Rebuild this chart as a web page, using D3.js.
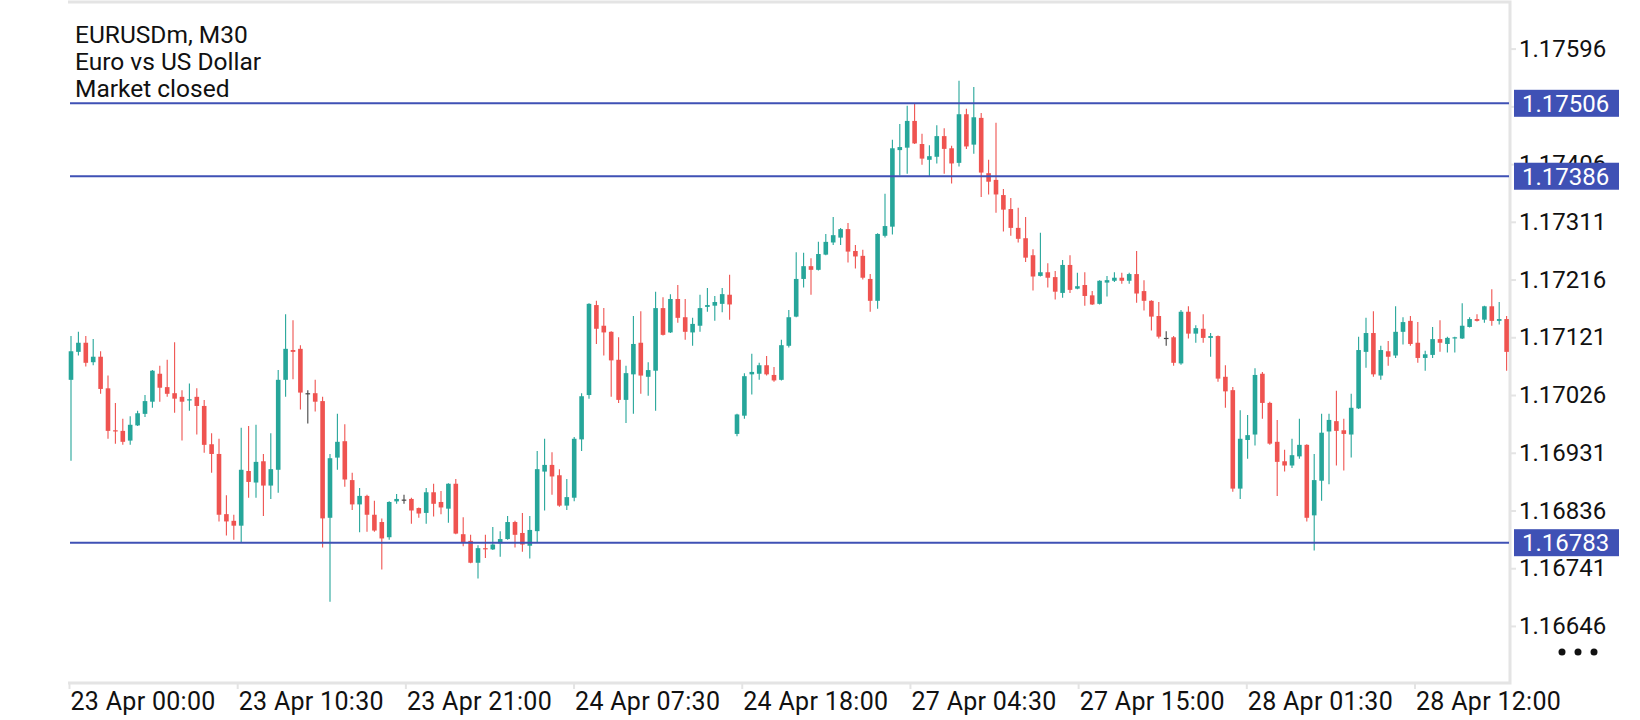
<!DOCTYPE html>
<html>
<head>
<meta charset="utf-8">
<script src="https://cdn.jsdelivr.net/npm/d3@7/dist/d3.min.js"></script>
<style>
  html, body { margin: 0; padding: 0; background: #fff; }
  svg { display: block; font-family: Roboto, "Noto Sans", sans-serif; }
</style>
</head>
<body>
<div id="chart"></div>
<script>
//Chart Header;
const titleLines = ["EURUSDm, M30", "Euro vs US Dollar", "Market closed"];

//Time Axis Labels;
const timeLabels = ["23 Apr 00:00", "23 Apr 10:30", "23 Apr 21:00", "24 Apr 07:30", "24 Apr 18:00",
                    "27 Apr 04:30", "27 Apr 15:00", "28 Apr 01:30", "28 Apr 12:00"];

//Price Axis Ticks;
const priceTicks = [1.17596, 1.17501, 1.17406, 1.17311, 1.17216, 1.17121, 1.17026, 1.16931, 1.16836, 1.16741, 1.16646];

//Horizontal Levels;
const levels = [1.17506, 1.17386, 1.16783];

//M30 Candles;
const open = [
  1.17051,1.17097,1.17112,1.17080,1.17089,1.17037,1.16968,1.16967,1.16951,1.16976,
  1.16995,1.17015,1.17061,1.17039,1.17029,1.17023,1.17017,1.17023,1.17008,1.16945,
  1.16929,1.16830,1.16819,1.16811,1.16901,1.16882,1.16917,1.16877,1.16903,1.17051,
  1.17100,1.17102,1.17029,1.17029,1.17016,1.16824,1.16923,1.16950,1.16886,1.16846,
  1.16860,1.16829,1.16817,1.16792,1.16851,1.16854,1.16855,1.16840,1.16832,1.16866,
  1.16850,1.16839,1.16880,1.16797,1.16786,1.16750,1.16774,1.16772,1.16782,1.16789,
  1.16817,1.16799,1.16778,1.16802,1.16900,1.16911,1.16894,1.16844,1.16857,1.16953,
  1.17026,1.17174,1.17140,1.17130,1.17084,1.17018,1.17060,1.17112,1.17056,1.17066,
  1.17169,1.17129,1.17184,1.17154,1.17129,1.17140,1.17171,1.17173,1.17176,1.17191,
  1.16962,1.16992,1.17060,1.17061,1.17075,1.17059,1.17051,1.17107,1.17155,1.17217,
  1.17238,1.17232,1.17257,1.17277,1.17285,1.17299,1.17263,1.17255,1.17217,1.17181,
  1.17288,1.17303,1.17429,1.17433,1.17477,1.17439,1.17413,1.17418,1.17452,1.17432,
  1.17408,1.17488,1.17438,1.17482,1.17391,1.17380,1.17355,1.17332,1.17301,1.17284,
  1.17256,1.17222,1.17228,1.17220,1.17194,1.17240,1.17201,1.17207,1.17190,1.17176,
  1.17211,1.17214,1.17219,1.17214,1.17225,1.17197,1.17181,1.17156,1.17120,1.17121,
  1.17078,1.17163,1.17127,1.17135,1.17120,1.17123,1.17056,1.17034,1.16872,1.16952,
  1.16961,1.17061,1.17013,1.16949,1.16917,1.16910,1.16925,1.16944,1.16828,1.16885,
  1.16966,1.16983,1.16968,1.16961,1.17004,1.17097,1.17128,1.17058,1.17098,1.17091,
  1.17130,1.17148,1.17112,1.17087,1.17092,1.17118,1.17110,1.17119,1.17119,1.17138,
  1.17151,1.17150,1.17172,1.17148,1.17151
];
const high = [
  1.17123,1.17130,1.17123,1.17118,1.17098,1.17058,1.17013,1.16987,1.16991,1.17000,
  1.17026,1.17067,1.17074,1.17084,1.17113,1.17034,1.17045,1.17037,1.17018,1.16963,
  1.16954,1.16861,1.16829,1.16972,1.16975,1.16977,1.16929,1.16963,1.17067,1.17159,
  1.17149,1.17108,1.17034,1.17051,1.17023,1.16929,1.16995,1.16978,1.16898,1.16873,
  1.16862,1.16852,1.16823,1.16851,1.16863,1.16862,1.16857,1.16841,1.16873,1.16880,
  1.16868,1.16881,1.16888,1.16825,1.16796,1.16779,1.16796,1.16809,1.16802,1.16827,
  1.16819,1.16832,1.16827,1.16934,1.16954,1.16932,1.16904,1.16888,1.16957,1.17029,
  1.17177,1.17181,1.17169,1.17131,1.17121,1.17074,1.17156,1.17164,1.17080,1.17196,
  1.17187,1.17192,1.17207,1.17184,1.17153,1.17191,1.17202,1.17189,1.17202,1.17224,
  1.16995,1.17062,1.17094,1.17079,1.17090,1.17072,1.17117,1.17166,1.17261,1.17260,
  1.17251,1.17278,1.17291,1.17319,1.17301,1.17309,1.17273,1.17265,1.17225,1.17292,
  1.17357,1.17446,1.17472,1.17502,1.17505,1.17456,1.17437,1.17470,1.17465,1.17436,
  1.17543,1.17497,1.17533,1.17490,1.17413,1.17474,1.17365,1.17350,1.17334,1.17319,
  1.17266,1.17293,1.17243,1.17230,1.17248,1.17256,1.17227,1.17228,1.17197,1.17215,
  1.17222,1.17228,1.17227,1.17227,1.17263,1.17215,1.17182,1.17179,1.17131,1.17123,
  1.17166,1.17172,1.17141,1.17159,1.17128,1.17124,1.17075,1.17039,1.17001,1.16993,
  1.17070,1.17064,1.17015,1.16985,1.16936,1.16954,1.16987,1.16945,1.16929,1.16995,
  1.16995,1.17033,1.16987,1.17028,1.17122,1.17153,1.17164,1.17107,1.17115,1.17172,
  1.17154,1.17156,1.17146,1.17099,1.17138,1.17149,1.17122,1.17122,1.17177,1.17154,
  1.17159,1.17173,1.17200,1.17179,1.17156
];
const low = [
  1.16918,1.17091,1.17073,1.17075,1.17028,1.16954,1.16946,1.16944,1.16944,1.16975,
  1.16990,1.17005,1.17015,1.17023,1.16997,1.16951,1.17000,1.16961,1.16931,1.16898,
  1.16818,1.16795,1.16788,1.16784,1.16857,1.16857,1.16827,1.16855,1.16865,1.17023,
  1.17052,1.17002,1.16979,1.16999,1.16775,1.16686,1.16903,1.16875,1.16837,1.16800,
  1.16801,1.16801,1.16739,1.16788,1.16847,1.16847,1.16814,1.16824,1.16814,1.16826,
  1.16830,1.16816,1.16797,1.16777,1.16749,1.16724,1.16758,1.16771,1.16760,1.16788,
  1.16775,1.16768,1.16757,1.16784,1.16836,1.16862,1.16842,1.16837,1.16851,1.16934,
  1.17020,1.17110,1.17091,1.17023,1.17013,1.16980,1.16995,1.17028,1.17025,1.17000,
  1.17124,1.17128,1.17145,1.17117,1.17107,1.17130,1.17163,1.17148,1.17162,1.17150,
  1.16958,1.16987,1.17027,1.17051,1.17058,1.17048,1.17050,1.17104,1.17154,1.17203,
  1.17191,1.17231,1.17256,1.17273,1.17273,1.17244,1.17234,1.17216,1.17163,1.17168,
  1.17285,1.17290,1.17387,1.17390,1.17439,1.17405,1.17385,1.17407,1.17390,1.17374,
  1.17402,1.17431,1.17423,1.17352,1.17356,1.17326,1.17295,1.17288,1.17277,1.17245,
  1.17198,1.17221,1.17203,1.17183,1.17186,1.17194,1.17200,1.17173,1.17174,1.17175,
  1.17188,1.17212,1.17209,1.17209,1.17178,1.17165,1.17132,1.17119,1.17107,1.17074,
  1.17076,1.17119,1.17112,1.17112,1.17089,1.17048,1.17005,1.16867,1.16855,1.16921,
  1.16943,1.16987,1.16944,1.16860,1.16900,1.16906,1.16921,1.16818,1.16770,1.16852,
  1.16879,1.16910,1.16902,1.16923,1.17003,1.17071,1.17056,1.17051,1.17074,1.17087,
  1.17109,1.17107,1.17079,1.17066,1.17087,1.17097,1.17096,1.17096,1.17118,1.17137,
  1.17147,1.17145,1.17140,1.17142,1.17066
];
const close = [
  1.17098,1.17112,1.17079,1.17089,1.17036,1.16967,1.16966,1.16949,1.16977,1.16996,
  1.17016,1.17066,1.17038,1.17028,1.17020,1.17015,1.17019,1.17008,1.16944,1.16929,
  1.16829,1.16818,1.16811,1.16903,1.16883,1.16916,1.16877,1.16904,1.17051,1.17102,
  1.17097,1.17030,1.17029,1.17015,1.16823,1.16922,1.16949,1.16887,1.16846,1.16860,
  1.16829,1.16803,1.16790,1.16850,1.16855,1.16854,1.16836,1.16831,1.16866,1.16847,
  1.16841,1.16880,1.16798,1.16784,1.16750,1.16774,1.16772,1.16780,1.16789,1.16817,
  1.16796,1.16780,1.16804,1.16904,1.16911,1.16892,1.16844,1.16858,1.16954,1.17024,
  1.17176,1.17135,1.17129,1.17083,1.17018,1.17062,1.17110,1.17058,1.17067,1.17169,
  1.17125,1.17184,1.17153,1.17130,1.17143,1.17169,1.17174,1.17179,1.17192,1.17175,
  1.16994,1.17057,1.17064,1.17075,1.17060,1.17050,1.17108,1.17154,1.17217,1.17238,
  1.17232,1.17258,1.17278,1.17289,1.17299,1.17262,1.17254,1.17219,1.17181,1.17291,
  1.17304,1.17432,1.17434,1.17477,1.17440,1.17415,1.17419,1.17452,1.17431,1.17407,
  1.17488,1.17435,1.17483,1.17392,1.17377,1.17356,1.17331,1.17301,1.17283,1.17252,
  1.17221,1.17228,1.17219,1.17196,1.17240,1.17199,1.17205,1.17189,1.17175,1.17214,
  1.17215,1.17219,1.17214,1.17225,1.17193,1.17181,1.17155,1.17122,1.17120,1.17079,
  1.17163,1.17127,1.17136,1.17120,1.17123,1.17053,1.17032,1.16872,1.16954,1.16960,
  1.17059,1.17013,1.16946,1.16916,1.16910,1.16927,1.16944,1.16824,1.16886,1.16964,
  1.16985,1.16967,1.16962,1.17005,1.17100,1.17128,1.17060,1.17100,1.17089,1.17130,
  1.17146,1.17110,1.17087,1.17093,1.17118,1.17112,1.17120,1.17121,1.17140,1.17151,
  1.17148,1.17172,1.17148,1.17151,1.17097
];

//Set Height and Width Vars;
const w = 1640;
const h = 720;
const plotLeft = 68, plotRight = 1510, plotTop = 2, plotBottom = 683;

const upCol = "#26a69a";
const downCol = "#ef5350";
const dojiCol = "#444444";
const levelCol = "#3f51b5";
const frameCol = "#e4e4e4";

//Build Candle Rows;
const candles = open.map(function(o, i){
	return {i: i, o: o, h: high[i], l: low[i], c: close[i]};
});

//Initialize SVG;
const svg = d3.select("#chart")
			  .append("svg")
				.attr("width", w)
				.attr("height", h);

svg.append("rect")
	.attr("width", w)
	.attr("height", h)
	.attr("fill", "#fff");

//Scales;
const x = d3.scaleLinear()
			.domain([0, candles.length - 1])
			.range([71, 1506.6]);

const y = d3.scaleLinear()
			.domain([1.16783, 1.17506])
			.range([542.7, 103.3]);

const xLabel = d3.scaleLinear()
				 .domain([0, timeLabels.length - 1])
				 .range([69.5, 1415]);

//Clip For Plot;
svg.append("clipPath")
	.attr("id", "plotClip")
  .append("rect")
	.attr("x", plotLeft)
	.attr("y", plotTop)
	.attr("width", plotRight - plotLeft)
	.attr("height", plotBottom - plotTop);

//Frame;
svg.append("path")
	.attr("d", "M" + plotLeft + "," + plotTop + "H" + plotRight + "V" + plotBottom + "H" + plotLeft)
	.attr("fill", "none")
	.attr("stroke", frameCol)
	.attr("stroke-width", 3);

//Price Axis;
const yAxis = d3.axisRight(y)
				.tickValues(priceTicks)
				.tickSize(5)
				.tickPadding(3)
				.tickFormat(d3.format(".5f"));

const yAxisG = svg.append("g")
	.attr("transform", "translate(" + (plotRight + 1) + ",0)")
	.call(yAxis);
yAxisG.select(".domain").remove();
yAxisG.selectAll(".tick line").attr("stroke", frameCol).attr("stroke-width", 2);
yAxisG.selectAll(".tick text")
	.attr("fill", "#111")
	.style("font-size", "24px")
	.style("font-family", "Roboto, sans-serif");

//Time Axis;
const xAxisG = svg.append("g");
const xTicks = xAxisG.selectAll(".xtick")
	.data(timeLabels)
	.enter()
  .append("g")
	.attr("class", "xtick")
	.attr("transform", function(d, i){ return "translate(" + xLabel(i) + "," + plotBottom + ")"; });

xTicks.append("line")
	.attr("y1", 0)
	.attr("y2", 6)
	.attr("stroke", frameCol)
	.attr("stroke-width", 2);

xTicks.append("text")
	.attr("x", 1)
	.attr("y", 27)
	.attr("fill", "#111")
	.style("font-size", "25px")
	.style("letter-spacing", "0.3px")
	.text(function(d){ return d; });

//Candles;
const candleG = svg.append("g").attr("clip-path", "url(#plotClip)");

function candleColor(d){
	if(d.c > d.o){
		return upCol;
	} else if(d.c < d.o){
		return downCol;
	} else{
		return dojiCol;
	}
}

const bodyW = 4.6;

candleG.selectAll(".wick")
	.data(candles)
	.enter()
  .append("line")
	.attr("class", "wick")
	.attr("x1", function(d){ return x(d.i); })
	.attr("x2", function(d){ return x(d.i); })
	.attr("y1", function(d){ return y(d.h); })
	.attr("y2", function(d){ return y(d.l); })
	.attr("stroke", candleColor)
	.attr("stroke-width", 1.1);

candleG.selectAll(".body")
	.data(candles)
	.enter()
  .append("rect")
	.attr("class", "body")
	.attr("x", function(d){ return x(d.i) - bodyW / 2; })
	.attr("y", function(d){ return y(Math.max(d.o, d.c)); })
	.attr("width", bodyW)
	.attr("height", function(d){ return Math.max(1.2, Math.abs(y(d.o) - y(d.c))); })
	.attr("fill", candleColor);

//Level Lines;
svg.selectAll(".level")
	.data(levels)
	.enter()
  .append("line")
	.attr("class", "level")
	.attr("x1", 70)
	.attr("x2", plotRight - 1)
	.attr("y1", function(d){ return y(d); })
	.attr("y2", function(d){ return y(d); })
	.attr("stroke", levelCol)
	.attr("stroke-width", 2);

const levelTags = svg.selectAll(".levelTag")
	.data(levels)
	.enter()
  .append("g")
	.attr("class", "levelTag")
	.attr("transform", function(d){ return "translate(1514," + y(d) + ")"; });

levelTags.append("rect")
	.attr("x", 0)
	.attr("y", -13.5)
	.attr("width", 105)
	.attr("height", 27)
	.attr("fill", levelCol);

levelTags.append("text")
	.attr("x", 8)
	.attr("dy", "0.35em")
	.attr("fill", "#fff")
	.style("font-size", "24px")
	.text(function(d){ return d3.format(".5f")(d); });

//Header;
svg.selectAll(".title")
	.data(titleLines)
	.enter()
  .append("text")
	.attr("class", "title")
	.attr("x", 75)
	.attr("y", function(d, i){ return 42.5 + i * 27.4; })
	.attr("fill", "#111")
	.style("font-size", "24.5px")
	.text(function(d){ return d; });

//Menu Dots;
svg.selectAll(".dot")
	.data([0, 1, 2])
	.enter()
  .append("circle")
	.attr("cx", function(d){ return 1562 + d * 16; })
	.attr("cy", 652)
	.attr("r", 3.5)
	.attr("fill", "#111");
</script>
</body>
</html>
